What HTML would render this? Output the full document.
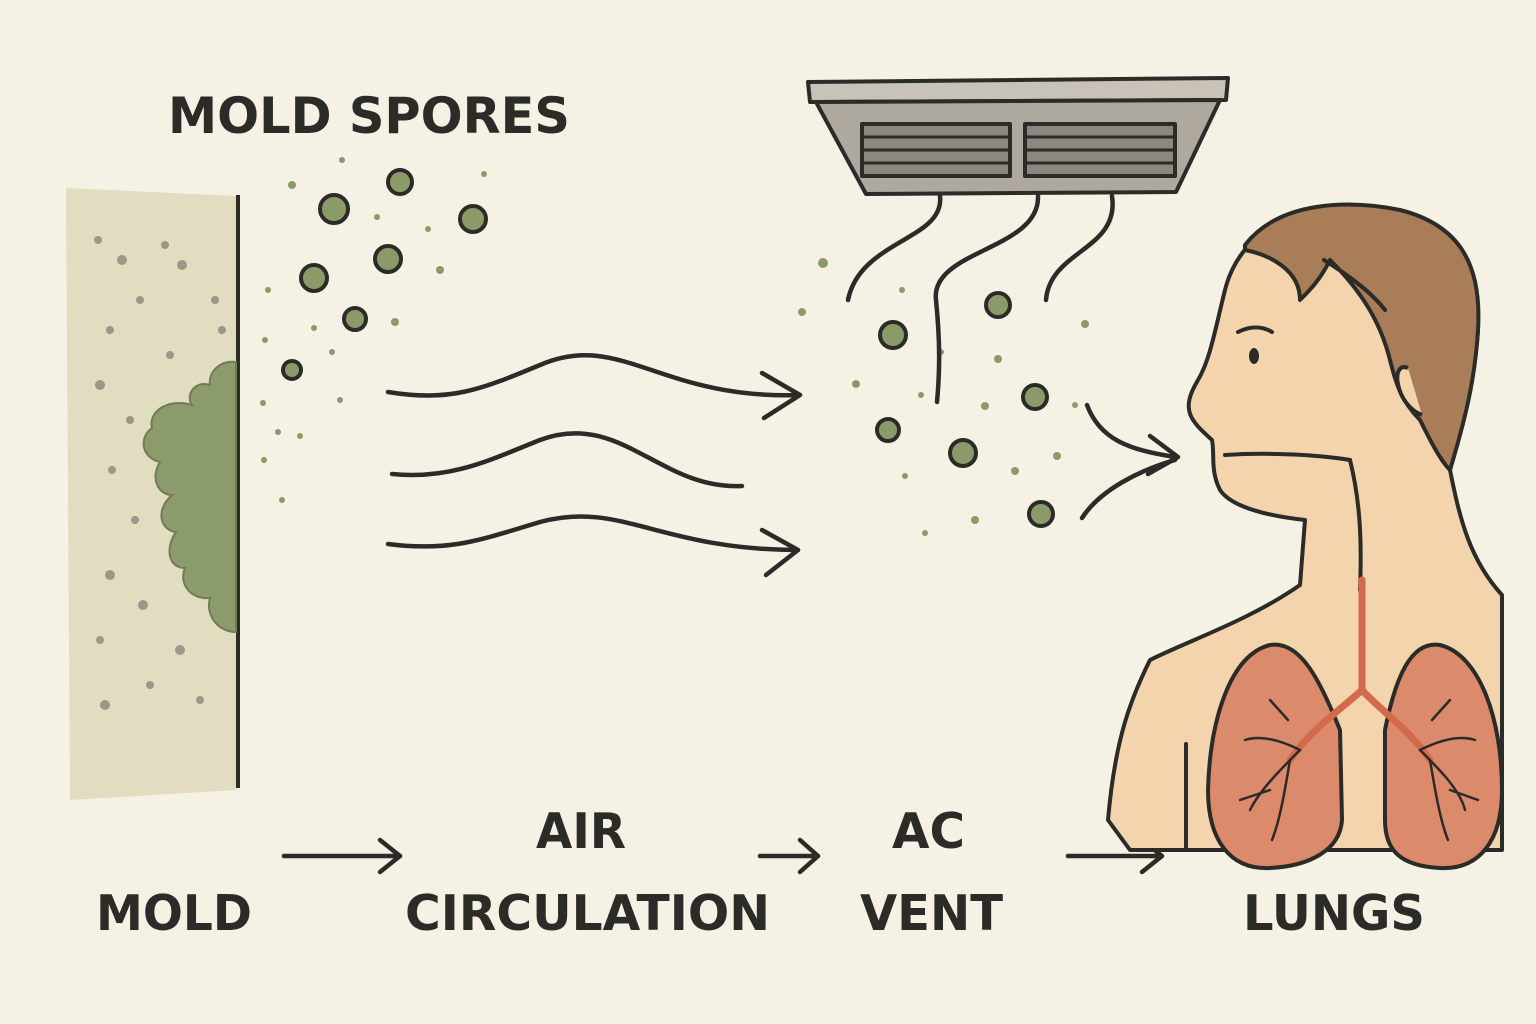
<!DOCTYPE html>
<html><head><meta charset="utf-8"><style>
html,body{margin:0;padding:0;background:#f6f1e5;}
svg{display:block}
text{font-family:"DejaVu Sans","Liberation Sans",sans-serif;font-weight:bold;fill:#2b2b28;}
</style></head><body>
<svg width="1536" height="1024" viewBox="0 0 1536 1024" xmlns="http://www.w3.org/2000/svg">
<rect width="1536" height="1024" fill="#f6f1e5"/>
<path d="M66 188 L236 196 L236 790 L70 800 Z" fill="#e2dcc0"/>
<line x1="238" y1="195" x2="238" y2="788" stroke="#2b2b28" stroke-width="4"/>
<g fill="#9a9888">
<circle cx="98" cy="240" r="4"/><circle cx="122" cy="260" r="5"/><circle cx="165" cy="245" r="4"/><circle cx="182" cy="265" r="5"/><circle cx="215" cy="300" r="4"/><circle cx="140" cy="300" r="4"/><circle cx="110" cy="330" r="4"/><circle cx="170" cy="355" r="4"/><circle cx="100" cy="385" r="5"/><circle cx="130" cy="420" r="4"/><circle cx="112" cy="470" r="4"/><circle cx="135" cy="520" r="4"/><circle cx="110" cy="575" r="5"/><circle cx="143" cy="605" r="5"/><circle cx="100" cy="640" r="4"/><circle cx="180" cy="650" r="5"/><circle cx="150" cy="685" r="4"/><circle cx="105" cy="705" r="5"/><circle cx="200" cy="700" r="4"/><circle cx="222" cy="330" r="4"/>
</g>
<path d="M236 362 C220 360 208 372 210 385 C195 380 185 395 192 405 C170 398 148 410 152 428 C138 438 142 458 160 462 C150 478 158 495 172 495 C155 510 160 530 176 532 C165 548 168 568 185 568 C178 585 192 600 210 598 C205 615 218 632 236 632 Z" fill="#8c9b6c" stroke="#6f7d55" stroke-width="2"/>
<g fill="#8c9a6a" stroke="#2b2b28" stroke-width="4">
<circle cx="400" cy="182" r="12"/><circle cx="334" cy="209" r="14"/><circle cx="473" cy="219" r="13"/><circle cx="388" cy="259" r="13"/><circle cx="314" cy="278" r="13"/><circle cx="355" cy="319" r="11"/><circle cx="292" cy="370" r="9"/>
<circle cx="893" cy="335" r="13"/><circle cx="998" cy="305" r="12"/><circle cx="1035" cy="397" r="12"/><circle cx="888" cy="430" r="11"/><circle cx="963" cy="453" r="13"/><circle cx="1041" cy="514" r="12"/>
</g>
<g fill="#8c9a6a">
<circle cx="292" cy="185" r="4"/><circle cx="342" cy="160" r="3"/><circle cx="484" cy="174" r="3"/><circle cx="377" cy="217" r="3"/><circle cx="428" cy="229" r="3"/><circle cx="440" cy="270" r="4"/><circle cx="268" cy="290" r="3"/><circle cx="314" cy="328" r="3"/><circle cx="395" cy="322" r="4"/><circle cx="265" cy="340" r="3"/><circle cx="332" cy="352" r="3"/><circle cx="263" cy="403" r="3"/><circle cx="300" cy="436" r="3"/><circle cx="278" cy="432" r="3"/><circle cx="264" cy="460" r="3"/><circle cx="282" cy="500" r="3"/><circle cx="340" cy="400" r="3"/>
<circle cx="823" cy="263" r="5"/><circle cx="802" cy="312" r="4"/><circle cx="902" cy="290" r="3"/><circle cx="856" cy="384" r="4"/><circle cx="941" cy="352" r="3"/><circle cx="998" cy="359" r="4"/><circle cx="1085" cy="324" r="4"/><circle cx="985" cy="406" r="4"/><circle cx="921" cy="395" r="3"/><circle cx="1057" cy="456" r="4"/><circle cx="905" cy="476" r="3"/><circle cx="1015" cy="471" r="4"/><circle cx="975" cy="520" r="4"/><circle cx="925" cy="533" r="3"/><circle cx="1075" cy="405" r="3"/>
</g>
<g fill="none" stroke="#2b2b28" stroke-width="4.5" stroke-linecap="round" stroke-linejoin="round">
<path d="M388 392 C450 402 480 390 540 365 C620 330 660 400 800 395"/><path d="M762 373 L800 395 L764 418"/>
<path d="M392 474 C450 480 490 460 540 440 C620 410 660 490 742 486"/>
<path d="M388 544 C450 552 480 540 540 522 C620 500 660 550 798 550"/><path d="M762 530 L798 550 L766 575"/>
<path d="M940 196 C945 240 860 240 848 300"/>
<path d="M1038 196 C1040 250 930 250 936 300 C940 340 940 370 937 402"/>
<path d="M1112 196 C1120 250 1050 250 1046 300"/>
<path d="M1087 405 C1100 440 1130 450 1175 457"/><path d="M1150 436 L1178 457 L1148 474"/>
<path d="M1082 518 C1100 490 1140 470 1175 460"/>
<path d="M284 856 L400 856"/><path d="M380 840 L400 856 L380 872"/>
<path d="M760 856 L818 856"/><path d="M800 840 L818 856 L800 872"/>
<path d="M1068 856 L1160 856"/><path d="M1142 840 L1162 856 L1142 872"/>
</g>
<g stroke="#2b2b28" stroke-width="4" stroke-linejoin="round">
<path d="M808 82 L1228 78 L1226 100 L810 102 Z" fill="#c9c2b8"/>
<path d="M816 102 L1220 100 L1176 192 L866 194 Z" fill="#aea89e"/>
<rect x="862" y="124" width="148" height="52" fill="#8d8780"/>
<rect x="1025" y="124" width="150" height="52" fill="#8d8780"/>
<g stroke-width="3"><line x1="862" y1="137" x2="1010" y2="137"/><line x1="862" y1="150" x2="1010" y2="150"/><line x1="862" y1="163" x2="1010" y2="163"/><line x1="1025" y1="137" x2="1175" y2="137"/><line x1="1025" y1="150" x2="1175" y2="150"/><line x1="1025" y1="163" x2="1175" y2="163"/></g>
</g>
<path d="M1130 850 L1108 820 C1115 740 1130 700 1150 660 C1190 640 1250 620 1300 585 L1305 520 C1260 515 1230 505 1220 490 C1210 470 1215 455 1212 440 C1190 420 1180 410 1198 380 C1210 360 1215 330 1225 290 C1240 230 1300 200 1370 210 C1440 220 1480 260 1478 330 C1475 380 1460 420 1450 470 C1460 520 1470 560 1502 595 L1502 850 Z" fill="#f3d4ad" stroke="#2b2b28" stroke-width="4" stroke-linejoin="round"/>
<path d="M1245 245 C1280 200 1350 200 1400 210 C1460 225 1482 265 1478 330 C1475 380 1465 420 1450 470 C1440 460 1430 440 1420 420 C1400 400 1395 380 1390 360 C1380 320 1360 290 1330 260 C1320 280 1310 290 1300 300 C1300 270 1270 255 1245 250 Z" fill="#a87d57" stroke="#2b2b28" stroke-width="4" stroke-linejoin="round"/>
<path d="M1408 368 C1390 360 1395 405 1422 415" fill="#f3d4ad" stroke="#2b2b28" stroke-width="4"/>
<g fill="none" stroke="#2b2b28" stroke-width="4" stroke-linecap="round">
<path d="M1225 455 C1270 452 1320 455 1350 460 C1360 500 1362 540 1360 590"/>
<path d="M1324 260 C1340 270 1370 290 1385 310"/>
<path d="M1238 332 C1250 326 1262 326 1272 332"/>
<path d="M1186 848 L1186 744"/>
</g>
<ellipse cx="1254" cy="356" rx="5" ry="8" fill="#2b2b28"/>
<g stroke="#2b2b28" stroke-width="4" fill="#dc8a6c" stroke-linejoin="round">
<path d="M1340 730 C1320 680 1300 640 1270 645 C1230 655 1210 720 1208 790 C1208 840 1230 870 1270 868 C1310 866 1340 850 1342 820 Z"/>
<path d="M1385 730 C1395 680 1410 640 1440 645 C1480 655 1502 720 1502 790 C1502 840 1480 870 1440 868 C1400 866 1385 850 1385 820 Z"/>
</g>
<g stroke="#d46a4c" stroke-width="7" fill="none" stroke-linecap="round">
<path d="M1362 580 L1362 690 C1340 710 1310 730 1290 760"/><path d="M1362 690 C1380 710 1410 730 1430 760"/>
</g>
<g stroke="#2b2b28" stroke-width="2.5" fill="none" stroke-linecap="round">
<path d="M1300 750 C1280 770 1260 790 1250 810 M1290 760 C1285 790 1280 820 1272 840 M1300 750 C1280 740 1260 735 1245 740 M1270 790 L1240 800 M1288 720 L1270 700"/>
<path d="M1420 750 C1440 770 1460 790 1465 810 M1430 760 C1435 790 1440 820 1448 840 M1420 750 C1440 740 1460 735 1475 740 M1450 790 L1478 800 M1432 720 L1450 700"/>
</g>
<text x="168" y="133" font-size="50" textLength="402" lengthAdjust="spacingAndGlyphs">MOLD SPORES</text>
<text x="96" y="930" font-size="49" textLength="156" lengthAdjust="spacingAndGlyphs">MOLD</text>
<text x="536" y="848" font-size="49" textLength="90" lengthAdjust="spacingAndGlyphs">AIR</text>
<text x="405" y="930" font-size="49" textLength="365" lengthAdjust="spacingAndGlyphs">CIRCULATION</text>
<text x="892" y="848" font-size="49" textLength="73" lengthAdjust="spacingAndGlyphs">AC</text>
<text x="860" y="930" font-size="49" textLength="143" lengthAdjust="spacingAndGlyphs">VENT</text>
<text x="1243" y="930" font-size="49" textLength="182" lengthAdjust="spacingAndGlyphs">LUNGS</text>
</svg>
</body></html>
